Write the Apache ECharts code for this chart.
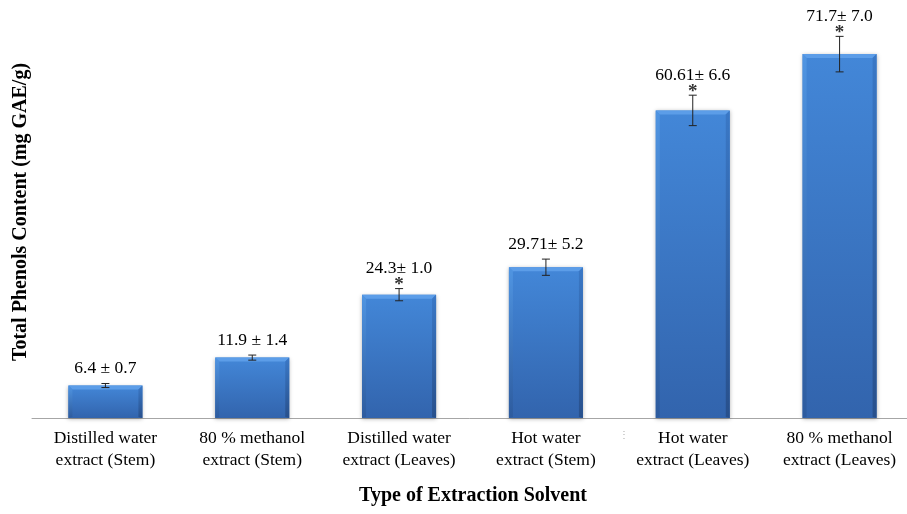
<!DOCTYPE html>
<html><head><meta charset="utf-8">
<script src="https://cdn.jsdelivr.net/npm/echarts@6/dist/echarts.min.js"></script>
<style>html,body{margin:0;padding:0;background:#fff;}#c{width:907px;height:514px;}</style>
</head><body><div id="c"></div>
<script>
var categories = ['Distilled water\nextract (Stem)', '80 % methanol\nextract (Stem)', 'Distilled water\nextract (Leaves)', 'Hot water\nextract (Stem)', 'Hot water\nextract (Leaves)', '80 % methanol\nextract (Leaves)'];
var values = [6.4, 11.9, 24.3, 29.71, 60.61, 71.7];
var errors = [0.4, 0.5, 1.2, 1.6, 3.0, 3.5];
var labelTexts = ['6.4 ± 0.7', '11.9 ± 1.4', '24.3± 1.0', '29.71± 5.2', '60.61± 6.6', '71.7± 7.0'];
var significant = [false, false, true, false, true, true];

var chart = echarts.init(document.getElementById('c'), null, {renderer: 'canvas'});
var serif = '"Liberation Serif", "DejaVu Serif", serif';
var BW = 74;
var barColor = new echarts.graphic.LinearGradient(0, 0, 0, 1, [
  {offset: 0, color: '#4387d8'},
  {offset: 1, color: '#3264ad'}
]);
var customData = values.map(function (v, i) { return [i, v, errors[i]]; });

chart.setOption({
  animation: false,
  grid: {left: 32, width: 881, top: 12, bottom: 96, containLabel: false, outerBoundsMode: 'none'},
  xAxis: {
    type: 'category', data: categories,
    axisLine: {lineStyle: {color: '#a6a6a6', width: 1}},
    axisTick: {show: false},
    axisLabel: {interval: 0, color: '#000', fontFamily: serif, fontSize: 17.5, lineHeight: 22, margin: 9}
  },
  yAxis: {
    type: 'value', min: 0, max: 80,
    axisLine: {show: false}, axisTick: {show: false}, axisLabel: {show: false}, splitLine: {show: false}
  },
  series: [{
    type: 'bar', data: values, barWidth: BW,
    itemStyle: {color: barColor,
      shadowColor: 'rgba(0,0,0,0.3)', shadowBlur: 4, shadowOffsetX: 0, shadowOffsetY: 1}
  }, {
    type: 'custom', data: customData, z: 10,
    renderItem: function (params, api) {
      var i = api.value(0), v = api.value(1), e = api.value(2);
      var top = api.coord([i, v + e]);
      var bot = api.coord([i, v - e]);
      var x = top[0];
      var yt = api.coord([i, v])[1];
      var yb = api.coord([i, 0])[1];
      var x0 = x - BW / 2, x1 = x + BW / 2, b = 4;
      var children = [
        {type: 'polygon', shape: {points: [[x0, yt], [x1, yt], [x1 - b, yt + b], [x0 + b, yt + b]]}, style: {fill: '#5c9de8'}},
        {type: 'polygon', shape: {points: [[x0, yt], [x0 + b, yt + b], [x0 + b, yb - 1], [x0, yb]]},
          style: {fill: new echarts.graphic.LinearGradient(0, 0, 0, 1, [{offset: 0, color: '#5095e2'}, {offset: 1, color: '#2d5b9e'}])}},
        {type: 'polygon', shape: {points: [[x1, yt], [x1 - b, yt + b], [x1 - b, yb - 1], [x1, yb]]},
          style: {fill: new echarts.graphic.LinearGradient(0, 0, 0, 1, [{offset: 0, color: '#3a78c6'}, {offset: 1, color: '#28508c'}])}},
        {type: 'line', shape: {x1: x, y1: top[1], x2: x, y2: bot[1]}, style: {stroke: '#222', lineWidth: 1}},
        {type: 'line', shape: {x1: x - 4, y1: top[1], x2: x + 4, y2: top[1]}, style: {stroke: '#222', lineWidth: 1}},
        {type: 'line', shape: {x1: x - 4, y1: bot[1], x2: x + 4, y2: bot[1]}, style: {stroke: '#222', lineWidth: 1}}
      ];
      var sig = significant[i];
      if (sig) {
        children.push({type: 'text', style: {text: '*', x: x, y: top[1] + 6, align: 'center', verticalAlign: 'bottom',
          font: 'bold 19px ' + serif, fill: '#333'}});
      }
      children.push({type: 'text', style: {text: labelTexts[i], x: x, y: top[1] - (sig ? 11 : 6), align: 'center', verticalAlign: 'bottom',
        font: '17.5px ' + serif, fill: '#000'}});
      return {type: 'group', children: children};
    }
  }],
  graphic: [
    {type: 'text', x: 473, y: 496, style: {text: 'Type of Extraction Solvent', font: 'bold 20px ' + serif, fill: '#000', align: 'center', verticalAlign: 'middle'}},
    {type: 'text', x: 21, y: 212, rotation: Math.PI / 2, style: {text: 'Total Phenols Content (mg GAE/g)', font: 'bold 20px ' + serif, fill: '#000', align: 'center', verticalAlign: 'middle'}},
    {type: 'text', x: 624, y: 435, style: {text: '⋮', font: '10px ' + serif, fill: '#b0b0b0', align: 'center', verticalAlign: 'middle'}}
  ]
});
</script></body></html>
